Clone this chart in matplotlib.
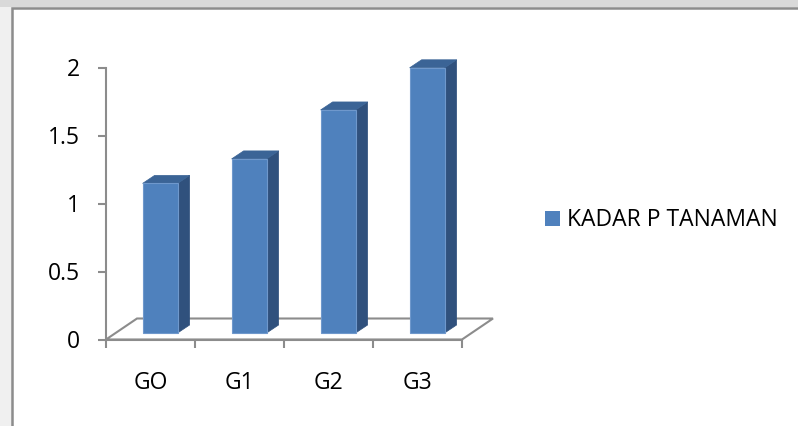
import matplotlib.pyplot as plt
from matplotlib.patches import Polygon, Rectangle, Patch

# data
categories = ['GO', 'G1', 'G2', 'G3']
kadar_p = [1.10, 1.28, 1.64, 1.95]
series_name = 'KADAR P TANAMAN'
y_ticks = [0, 0.5, 1, 1.5, 2]

plt.rcParams['font.family'] = ['Open Sans', 'DejaVu Sans']
fs = 16.5

W, H = 798, 426
fig = plt.figure(figsize=(W / 100, H / 100), dpi=100)
fig.patch.set_facecolor('#f0f0f0')

# chart area frame (Excel style) and grey strip on top
fig.patches.append(Rectangle((12 / W, -0.1), 1.2, (H - 8) / H + 0.1, transform=fig.transFigure,
                             facecolor='white', edgecolor='#8c8c8c', lw=1.8, zorder=-2))
fig.patches.append(Rectangle((0, (H - 7) / H), 1, 7 / H, transform=fig.transFigure,
                             facecolor='#d9d9d9', edgecolor='none', zorder=-2))

# front plane of the 3D plot
ax = fig.add_axes([106 / W, (H - 339.5) / H, 356 / W, 272 / H])
ax.set_xlim(0, len(categories))
ax.set_ylim(0, 2)
ax.patch.set_alpha(0)

# oblique depth offsets (in data units)
px_x, px_y = 356 / len(categories), 272 / 2
floor_dx, floor_dy = 31 / px_x, 21 / px_y
bar_dx, bar_dy = 12 / px_x, 8 / px_y
f0 = 0.31
off_x, off_y = f0 * floor_dx, f0 * floor_dy
bar_w = 35 / px_x

grey = '#8c8c8c'
floor = Polygon([(0, 0), (len(categories), 0),
                 (len(categories) + floor_dx, floor_dy), (floor_dx, floor_dy)],
                closed=True, facecolor='none', edgecolor=grey, lw=1.5, clip_on=False, zorder=1)
ax.add_patch(floor)

front_c, side_c, top_c = '#4f81bd', '#30517d', '#3b6496'
for i, v in enumerate(kadar_p):
    c = i + 0.5 + off_x
    x0, x1 = c - bar_w / 2, c + bar_w / 2
    y0, y1 = off_y, off_y + v
    side = Polygon([(x1, y0), (x1 + bar_dx, y0 + bar_dy), (x1 + bar_dx, y1 + bar_dy), (x1, y1)],
                   closed=True, facecolor=side_c, edgecolor=side_c, lw=0.5, clip_on=False, zorder=3)
    top = Polygon([(x0, y1), (x1, y1), (x1 + bar_dx, y1 + bar_dy), (x0 + bar_dx, y1 + bar_dy)],
                  closed=True, facecolor=top_c, edgecolor=top_c, lw=0.5, clip_on=False, zorder=3)
    front = Rectangle((x0, y0), bar_w, v, facecolor=front_c, edgecolor='#6f98cc', lw=0.8,
                      clip_on=False, zorder=4)
    ax.add_patch(side)
    ax.add_patch(top)
    ax.add_patch(front)

for s in ['top', 'right']:
    ax.spines[s].set_visible(False)
for s in ['left', 'bottom']:
    ax.spines[s].set_color(grey)
    ax.spines[s].set_linewidth(1.5)

ax.set_yticks(y_ticks)
ax.set_yticklabels([f'{t:g}' for t in y_ticks])
ax.set_xticks(range(len(categories) + 1))
ax.set_xticklabels([])
ax.tick_params(axis='both', color=grey, width=1.5, length=6, labelsize=fs)
ax.tick_params(axis='y', pad=13)

for i, lab in enumerate(categories):
    ax.text(i + 0.5, -0.32, lab, ha='center', va='center', fontsize=fs)

ax.legend(handles=[Patch(facecolor=front_c, edgecolor='none', label=series_name)],
          loc='center left', bbox_to_anchor=(545 / W, 1 - 220.5 / H),
          bbox_transform=fig.transFigure, frameon=False, fontsize=fs,
          handlelength=0.66, handleheight=0.66, handletextpad=0.3,
          borderpad=0, borderaxespad=0)

fig.savefig('out.png', dpi=100)
